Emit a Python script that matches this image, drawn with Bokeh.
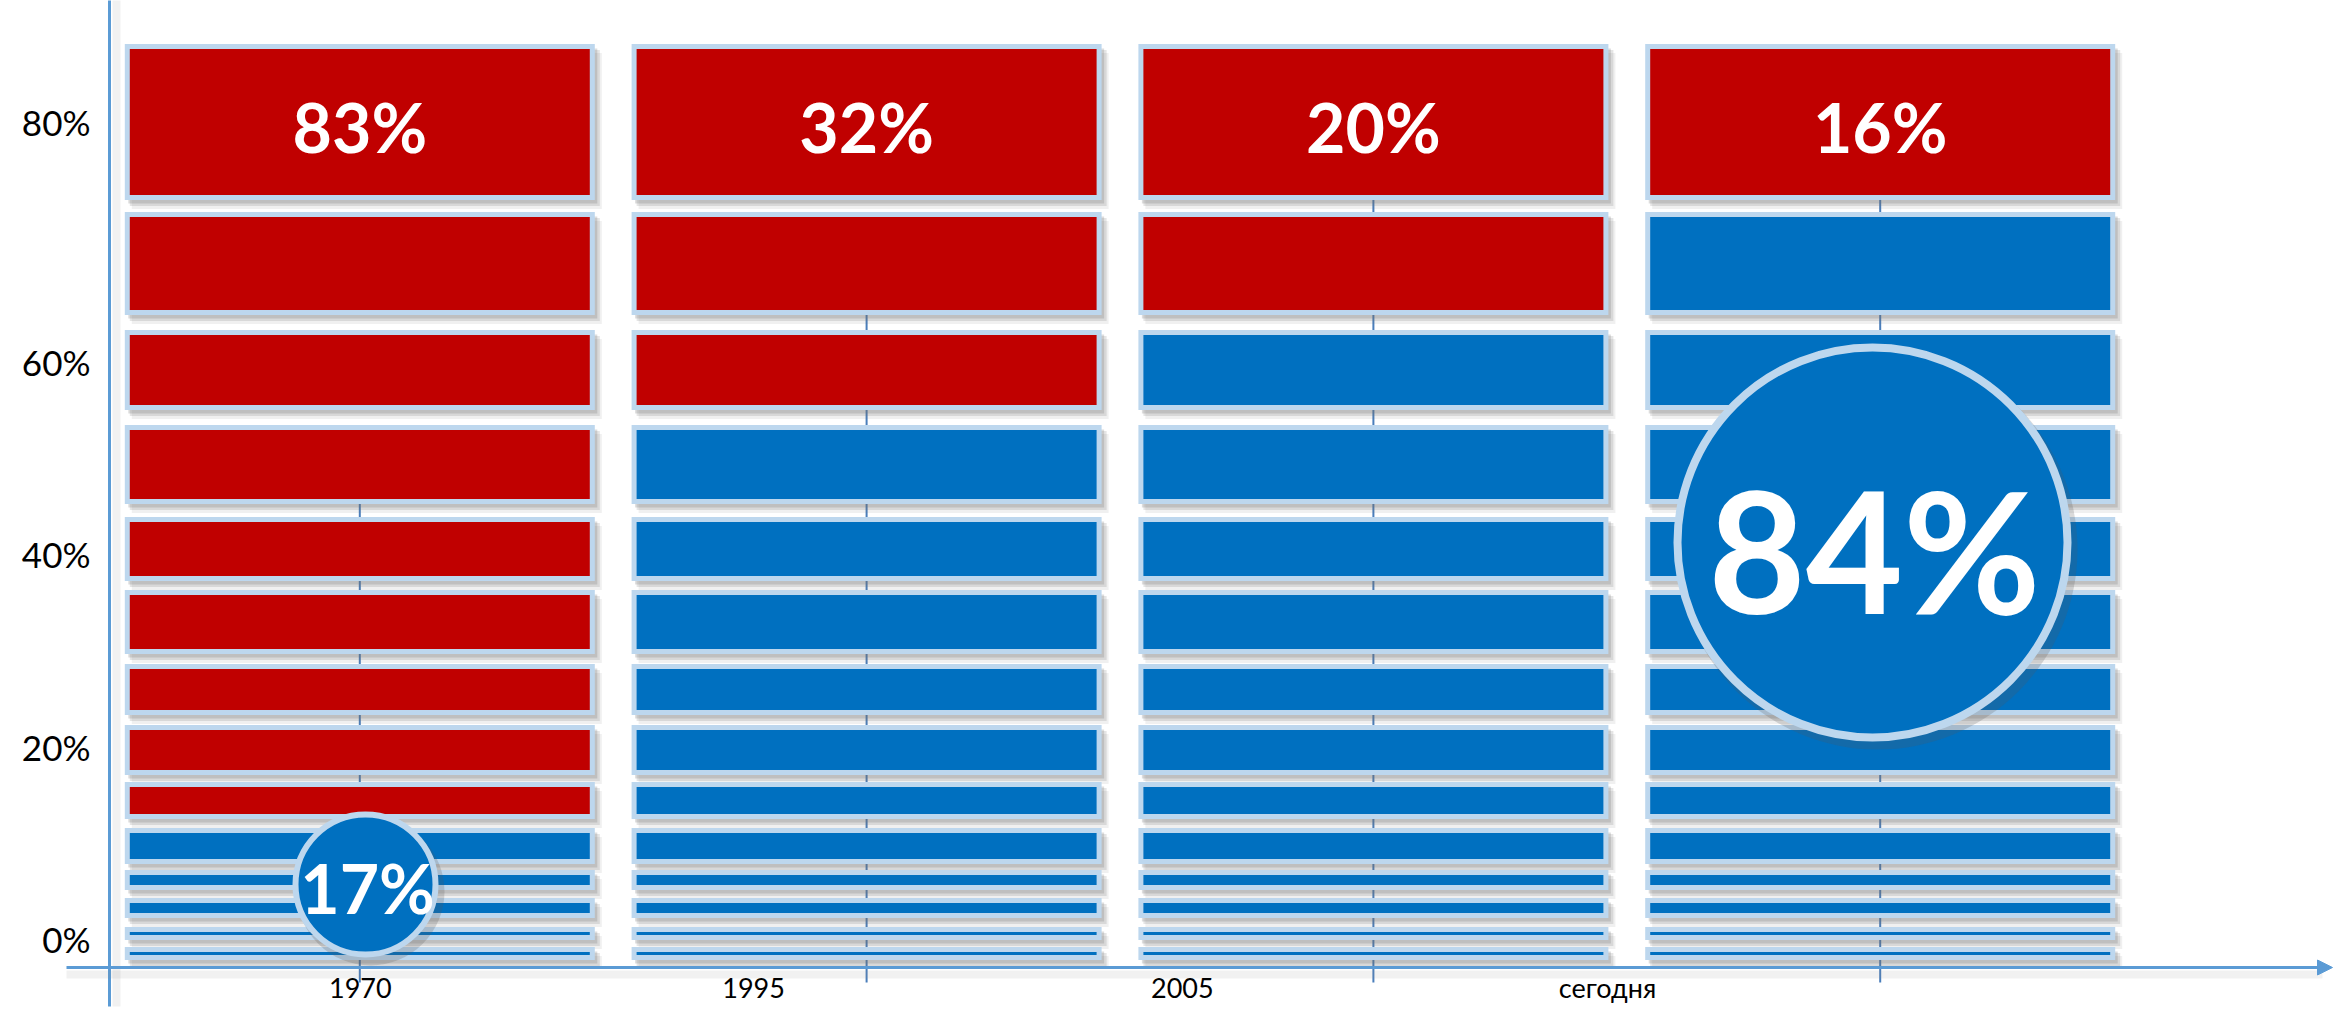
from bokeh.plotting import figure
from bokeh.models import Range1d, ColumnDataSource, Arrow, NormalHead
from bokeh.core.properties import value
from bokeh.embed import file_html
from bokeh.resources import INLINE

# ---------------- data ----------------
categories = ["1970", "1995", "2005", "сегодня"]
top_share = [83, 32, 20, 16]          # share printed on the top block (red)
red_blocks = [9, 3, 2, 1]             # number of red blocks counted from the top
bubble_cols = [0, 3]                  # columns that carry a round badge
bubble_vals = [17, 84]                # badge values (blue share)
# block extents (bottom -> top), vertical units of the drawing
seg_lo = [10, 30, 52, 80, 106, 151, 195, 255, 316, 389, 466, 560, 655, 770]
seg_hi = [18, 38, 67, 95, 137, 183, 240, 301, 375, 448, 540, 635, 753, 921]
y_tick_pos = [29, 221, 414, 606, 846]
y_tick_labels = ["0%", "20%", "40%", "60%", "80%"]
x_label_pos = [0.001, 0.777, 1.623, 2.462]
drop_top = [500, 710, 870, 870]

# ---------------- layout ----------------
W, H = 2333, 1007
PX0, PXU = 359.3, 506.8      # canvas x of column 0 and px per column step
Y0 = 967                     # canvas y of baseline


def dx(px):
    return px / PXU


def xc(px_canvas):
    return (px_canvas - PX0) / PXU


RED, BLUE, EDGE = "#C00000", "#0070C0", "#BDD7EE"
AXIS = "#5B9BD5"

p = figure(width=W, height=H,
           x_range=Range1d(xc(0), xc(W)), y_range=Range1d(Y0 - H, Y0),
           output_backend="svg", toolbar_location=None,
           x_axis_location=None, y_axis_location=None,
           min_border=0, outline_line_color=None, background_fill_color="white")
p.grid.visible = False

ncat = len(categories)
# drop lines / ticks at column centres (behind the blocks)
p.segment(x0=list(range(ncat)), y0=[-15] * ncat,
          x1=list(range(ncat)), y1=drop_top,
          line_color="#4A7EBB", line_width=2)

# y axis line (with soft shadow)
yax_x = xc(109)
p.segment(x0=[yax_x + dx(7)], y0=[-39], x1=[yax_x + dx(7)], y1=[Y0 + 10],
          line_color="#888888", line_alpha=0.12, line_width=8)
p.segment(x0=[yax_x], y0=[-39], x1=[yax_x], y1=[Y0 + 10],
          line_color=AXIS, line_width=3)

# x axis arrow (with soft shadow)
p.segment(x0=[xc(66)], y0=[-7], x1=[xc(2322)], y1=[-7],
          line_color="#888888", line_alpha=0.12, line_width=8)
p.add_layout(Arrow(end=NormalHead(size=15, fill_color=AXIS, line_color=AXIS),
                   x_start=xc(66), y_start=0, x_end=xc(2332), y_end=0,
                   line_color=AXIS, line_width=3))

# ---------------- blocks ----------------
bx, by, bw, bh, bc = [], [], [], [], []
n = len(seg_lo)
bar_w = dx(465)
for ci in range(ncat):
    for k in range(n):
        bx.append(ci)
        by.append((seg_lo[k] + seg_hi[k]) / 2)
        bh.append(seg_hi[k] - seg_lo[k])
        bw.append(bar_w)
        bc.append(RED if k >= n - red_blocks[ci] else BLUE)
src = ColumnDataSource(dict(x=bx, y=by, w=bw, h=bh, c=bc))

# shadows
for off_x, off_y, grow, alpha in [(7, -9, 5, 0.10), (5, -6, 5, 0.18), (3, -4, 4, 0.24)]:
    p.rect(x=[v + dx(off_x) for v in bx], y=[v + off_y for v in by],
           width=[v + dx(grow) for v in bw], height=[v + grow for v in bh],
           fill_color="#6f6f6f", fill_alpha=alpha, line_color=None)

p.rect(x="x", y="y", width="w", height="h", source=src,
       fill_color="c", line_color=EDGE, line_width=5, line_join="miter")

# top labels
top_y = (seg_lo[-1] + seg_hi[-1]) / 2
p.text(x=list(range(ncat)), y=[top_y - 4] * ncat,
       text=[f"{v}%" for v in top_share],
       text_font=value("Lato"), text_font_size=value("68px"), text_font_style="bold",
       text_color="white", text_align="center", text_baseline="middle")

# ---------------- badges ----------------
bub_x = [xc(365), xc(1872)]
bub_y = [83, 425]
bub_size = [140, 390]
bub_lw = [6, 8]
bub_font = ["68px", "168px"]
for i in range(len(bubble_vals)):
    p.scatter(x=[bub_x[i] + dx(5)], y=[bub_y[i] - 7], size=bub_size[i] + bub_lw[i] + 2,
              marker="circle", fill_color="#555555", fill_alpha=0.22, line_color=None)
    p.scatter(x=[bub_x[i]], y=[bub_y[i]], size=bub_size[i], marker="circle",
              fill_color=BLUE, line_color=EDGE, line_width=bub_lw[i])
    p.text(x=[bub_x[i] + dx(2)], y=[bub_y[i] - (3 if i == 0 else 6)],
           text=[f"{bubble_vals[i]}%"],
           text_font=value("Lato"), text_font_size=value(bub_font[i]), text_font_style="bold",
           text_color="white", text_align="center", text_baseline="middle")

# ---------------- tick labels ----------------
p.text(x=[xc(90)] * len(y_tick_pos), y=y_tick_pos, text=y_tick_labels,
       text_font=value("Lato"), text_font_size=value("35px"),
       text_color="black", text_align="right", text_baseline="middle")
p.text(x=x_label_pos, y=[-20] * ncat, text=categories,
       text_font=value("Lato"), text_font_size=value("27px"),
       text_color="black", text_align="center", text_baseline="middle")

open("out.html", "w").write(file_html(p, INLINE))
